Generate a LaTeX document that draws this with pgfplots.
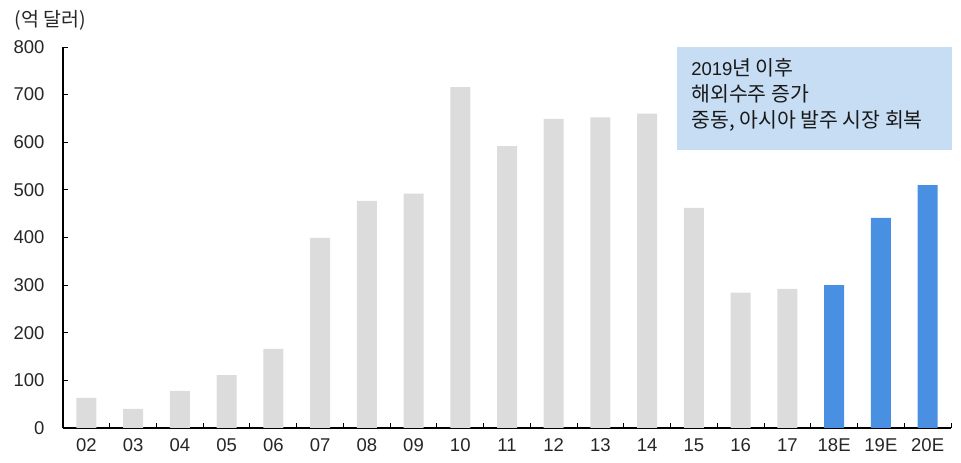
\documentclass[border=0pt]{standalone}
\usepackage{pgfplots}
\pgfplotsset{compat=1.18}
\usepackage{fontspec}
\setmainfont{Liberation Sans}
\newfontfamily\cjk{Noto Sans CJK KR}
\definecolor{bargray}{RGB}{220,220,220}
\definecolor{barblue}{RGB}{74,144,226}
\definecolor{boxblue}{RGB}{198,221,244}

\begin{document}
\begin{tikzpicture}[x=1pt,y=1pt]
\path[use as bounding box] (0,0) rectangle (961,463);
\begin{axis}[
  at={(63pt,35pt)}, anchor=south west,
  scale only axis, width=888pt, height=381pt,
  xmin=-0.5, xmax=18.5, ymin=0, ymax=800,
  axis x line*=bottom, axis y line*=left,
  axis line style={-, line width=1.3pt, black},
  xtick={0,...,18},
  xticklabels={02,03,04,05,06,07,08,09,10,11,12,13,14,15,16,17,18E,19E,20E},
  minor xtick={-0.5,0.5,...,18.5},
  major x tick style={draw=none},
  minor x tick style={line width=1pt, black},
  ytick={0,100,...,800},
  major y tick style={line width=1pt, black},
  tick align=inside,
  major tick length=5pt, minor tick length=5pt,
  /pgf/number format/assume math mode=true,
  ticklabel style={font=\fontsize{18.5}{20}\selectfont, text=black!85},
  yticklabel style={xshift=-15pt},
  xticklabel style={yshift=-7pt},
  clip=false,
]
% actual values, 2002-2017
\addplot[ybar, bar width=20pt, bar shift=0pt, fill=bargray, draw=none]
  coordinates {(0,63) (1,40) (2,78) (3,111) (4,166) (5,399) (6,477) (7,492)
               (8,716) (9,592) (10,649) (11,652) (12,660) (13,462) (14,284) (15,292)};
% estimates, 2018-2020
\addplot[ybar, bar width=20pt, bar shift=0pt, fill=barblue, draw=none]
  coordinates {(16,300) (17,441) (18,510)};
% unit label
\node[anchor=west, font=\cjk\fontsize{19.5}{22}\selectfont, text=black!85]
  at (rel axis cs:0,1) [xshift=-52pt, yshift=27pt] {(억 달러)};
% annotation box
\fill[boxblue] (axis cs:12.64,800) rectangle (axis cs:18.52,584);
\node[anchor=north west, align=left, inner sep=0pt, text=black!90,
      font=\cjk\fontsize{20.5}{26}\selectfont]
  at (axis cs:12.64,800) [xshift=14pt, yshift=-11pt]
  {{\rmfamily\fontsize{18.5}{26}\selectfont 2019}년 이후\\해외수주 증가\\중동, 아시아 발주 시장 회복};
\end{axis}
\end{tikzpicture}
\end{document}
